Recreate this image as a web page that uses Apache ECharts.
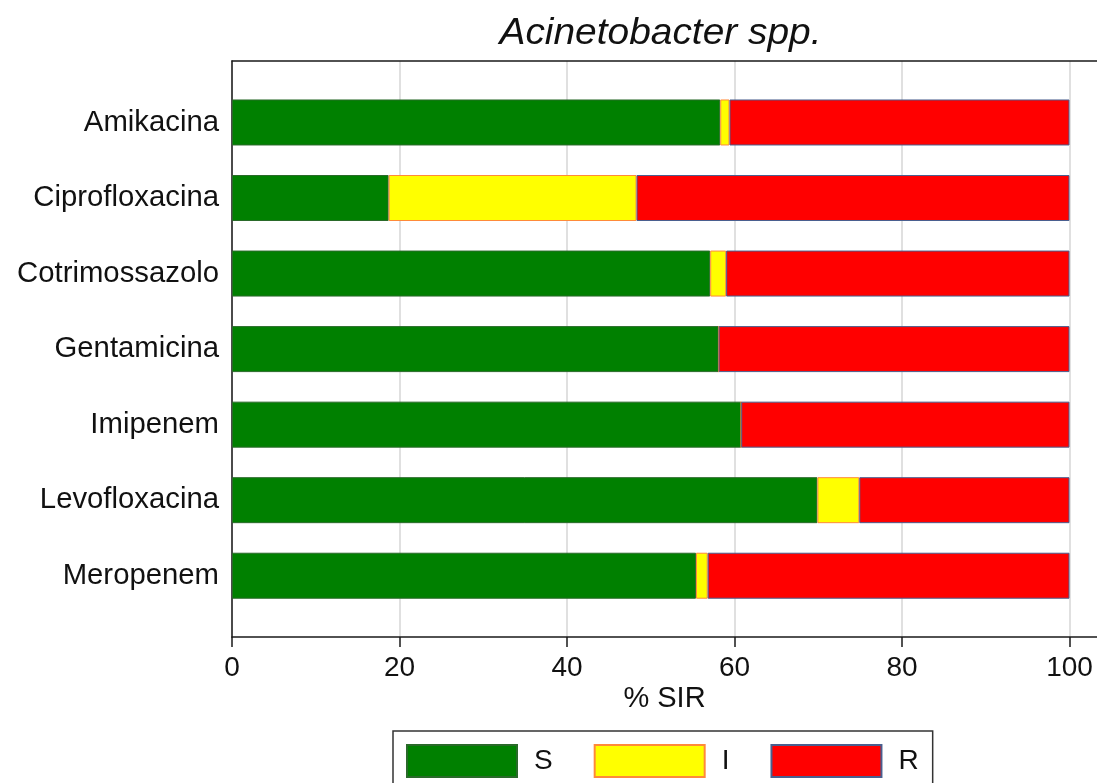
<!DOCTYPE html>
<html>
<head>
<meta charset="utf-8">
<script src="https://cdn.jsdelivr.net/npm/echarts@6/dist/echarts.min.js"></script>
<style>
html,body{margin:0;padding:0;background:#fff;}
#chart{width:1097px;height:783px;}
</style>
</head>
<body>
<div id="chart"></div>
<script>
const titleText = 'Acinetobacter spp.';
const categories = ['Amikacina','Ciprofloxacina','Cotrimossazolo','Gentamicina','Imipenem','Levofloxacina','Meropenem'];
const sValues = [58.3, 18.7, 57.1, 58.1, 60.8, 69.9, 55.4];
const iValues = [1.1, 29.6, 1.9, 0, 0, 5.0, 1.4];
const rValues = [40.6, 51.7, 41.0, 41.9, 39.2, 25.1, 43.2];
const xTicks = [0, 20, 40, 60, 80, 100];
const seriesNames = ['S', 'I', 'R'];

const FONT = '"Liberation Sans", Arial, sans-serif';
const chart = echarts.init(document.getElementById('chart'), null, {renderer: 'canvas'});

const xMin = xTicks[0], xStep = xTicks[1] - xTicks[0];
const xMax = xTicks[xTicks.length - 1];

const colors = ['#008000', '#ffff00', '#ff0000'];
const borders = ['#2a6a2a', '#ff8a3a', '#4a5f8f'];
const values = [sValues, iValues, rValues];

const option = {
  animation: false,
  graphic: [{
    type: 'text',
    x: 660.5,
    y: 16,
    scaleX: 1.08,
    silent: true,
    style: {
      text: titleText,
      x: 0, y: 0,
      textAlign: 'center',
      textVerticalAlign: 'top',
      font: 'italic 36px "Liberation Sans", Arial, sans-serif',
      fill: '#111'
    }
  }],
  legend: {
    data: seriesNames,
    left: 393,
    top: 731,
    orient: 'horizontal',
    icon: 'rect',
    itemWidth: 110,
    itemHeight: 32,
    itemGap: 41,
    padding: [13, 14, 14, 13],
    borderColor: '#333',
    borderWidth: 1.5,
    textStyle: {fontFamily: FONT, fontSize: 28, color: '#111', padding: [0, 0, 0, 12]}
  },
  grid: [
    {left: 232, right: 0, top: 61, bottom: 146, containLabel: false},
    {left: 232, right: 27.5, top: 61, bottom: 146, containLabel: false},
    {left: 232, right: 27.5, top: 84.7, bottom: 169.5, containLabel: false}
  ],
  xAxis: [
    {
      gridIndex: 0, type: 'value', min: 0, max: 1, position: 'bottom',
      name: '% SIR', nameLocation: 'middle', nameGap: 47,
      nameTextStyle: {fontFamily: FONT, fontSize: 29, color: '#111'},
      axisLine: {show: true, onZero: false, lineStyle: {color: '#1a1a1a', width: 1.5}},
      axisTick: {show: false}, axisLabel: {show: false}, splitLine: {show: false}
    },
    {
      gridIndex: 0, type: 'value', min: 0, max: 1, position: 'top',
      axisLine: {show: true, onZero: false, lineStyle: {color: '#1a1a1a', width: 1.5}},
      axisTick: {show: false}, axisLabel: {show: false}, splitLine: {show: false}
    },
    {
      gridIndex: 1, type: 'value', min: xMin, max: xMax, interval: xStep, position: 'bottom',
      axisLine: {show: false},
      axisTick: {show: true, length: 10, lineStyle: {color: '#1a1a1a', width: 1.5}},
      axisLabel: {fontFamily: FONT, fontSize: 28, color: '#111', margin: 17},
      splitLine: {show: true, lineStyle: {color: '#e0e0e0', width: 2}}
    },
    {
      gridIndex: 2, type: 'value', min: xMin, max: xMax, show: false
    }
  ],
  yAxis: [
    {
      gridIndex: 0, type: 'value', min: 0, max: 1,
      axisLine: {show: true, onZero: false, lineStyle: {color: '#1a1a1a', width: 1.5}},
      axisTick: {show: false}, axisLabel: {show: false}, splitLine: {show: false}
    },
    {
      gridIndex: 1, type: 'value', min: 0, max: 1, show: false
    },
    {
      gridIndex: 2, type: 'category', data: categories, inverse: true,
      axisLine: {show: false}, axisTick: {show: false},
      axisLabel: {fontFamily: FONT, fontSize: 29.3, color: '#111', margin: 13},
      splitLine: {show: false}
    }
  ],
  series: seriesNames.map((name, k) => ({
    name: name,
    type: 'bar',
    stack: 'sir',
    xAxisIndex: 3,
    yAxisIndex: 2,
    barWidth: 46,
    data: values[k],
    itemStyle: {color: colors[k], borderColor: borders[k], borderWidth: 1}
  }))
};
chart.setOption(option);
</script>
</body>
</html>
